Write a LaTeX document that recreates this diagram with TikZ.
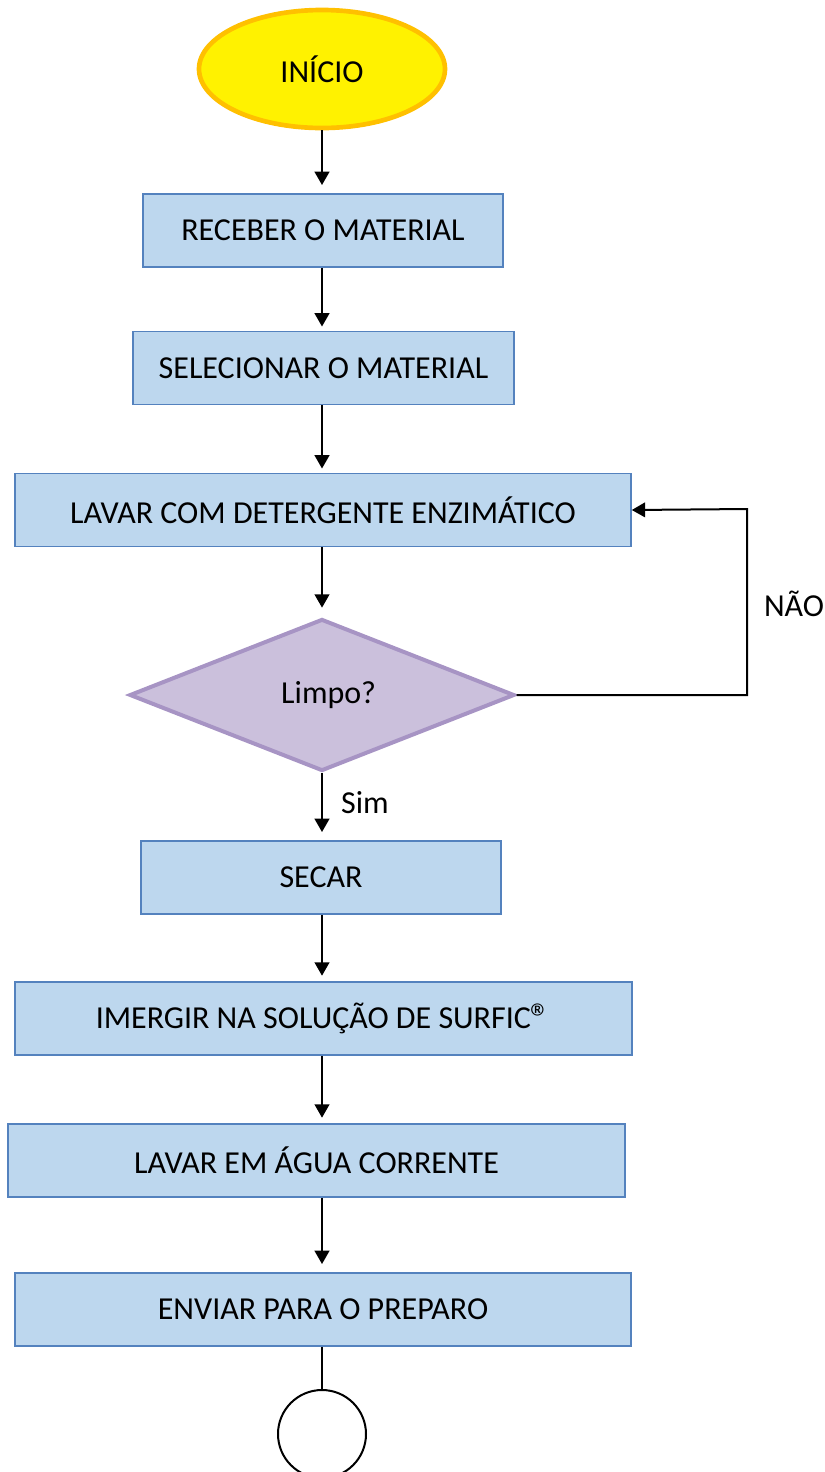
\documentclass[tikz,border=0pt]{standalone}
\usepackage{fontspec}
\setmainfont{Carlito}
\usetikzlibrary{shapes.geometric, arrows.meta, positioning, calc}

\definecolor{boxfill}{RGB}{189,215,238}
\definecolor{boxline}{RGB}{84,130,190}
\definecolor{decfill}{RGB}{203,192,220}
\definecolor{decline}{RGB}{167,148,196}
\definecolor{startline}{RGB}{255,192,0}

\newcommand{\regmark}{\raisebox{-2pt}{\fontsize{30}{30}\selectfont ®}}

\begin{document}
\begin{tikzpicture}[x=0.75pt, y=-0.75pt,
  every node/.style={font=\fontsize{24}{28}\selectfont},
  stepbox/.style={rectangle, draw=boxline, fill=boxfill, line width=1.2pt,
    inner sep=0pt, minimum height=55pt},
  decision/.style={diamond, draw=decline, fill=decfill, line width=3pt,
    inner sep=0pt, aspect=2.5, minimum width=288.75pt, minimum height=114pt},
  startnode/.style={ellipse, draw=startline, fill=yellow, line width=3.5pt,
    inner sep=0pt, minimum width=184.5pt, minimum height=88.5pt},
  endnode/.style={circle, draw=black, line width=1.5pt, fill=white,
    inner sep=0pt, minimum size=66pt},
  arr/.style={line width=1.5pt, -{Triangle[length=10pt, width=11pt]}},
  lbl/.style={inner sep=0pt}
]
\useasboundingbox (0,0) rectangle (825,1472);

% Nodes
\node[startnode] (ini) at (322,69) {INÍCIO};
\node[stepbox, minimum width=270pt] (rec) at (323,230.5) {RECEBER O MATERIAL};
\node[stepbox, minimum width=285.75pt] (sel) at (323.5,368) {SELECIONAR O MATERIAL};
\node[stepbox, minimum width=462pt] (lav) at (323,510) {LAVAR COM DETERGENTE ENZIMÁTICO};
\node[decision] (dec) at (322,695) {\raisebox{-4pt}{\hspace{10pt}Limpo?}};
\node[stepbox, minimum width=270pt] (sec) at (321,877.5) {SECAR};
\node[stepbox, minimum width=462.75pt] (ime) at (323.5,1018.5) {IMERGIR NA SOLUÇÃO DE SURFIC\regmark};
\node[stepbox, minimum width=462.75pt] (agu) at (316.5,1160.5) {LAVAR EM ÁGUA CORRENTE};
\node[stepbox, minimum width=462pt] (env) at (323,1309.5) {ENVIAR PARA O PREPARO};
\node[endnode] (fim) at (322,1434) {};

% Labels
\node[lbl] (sim) at (365,803) {Sim};
\node[lbl] (nao) at (794,604) {NÃO};

% Connectors
\draw[arr, shorten >=6pt] (ini.south) -- (rec.north -| ini);
\draw[arr, shorten >=3pt] (rec.south -| ini) -- (sel.north -| ini);
\draw[arr, shorten >=3pt] (sel.south -| ini) -- (lav.north -| ini);
\draw[arr, shorten >=7pt] (lav.south -| ini) -- (dec.north);
\draw[arr, shorten >=6pt] (dec.south) -- (sec.north -| ini);
\draw[arr, shorten >=4pt] (sec.south -| ini) -- (ime.north -| ini);
\draw[arr, shorten >=4pt] (ime.south -| ini) -- (agu.north -| ini);
\draw[arr, shorten >=6pt] (agu.south -| ini) -- (env.north -| ini);
\draw[line width=1.5pt] (env.south -| ini) -- (fim.north);

% Loop back
\coordinate (volta) at (747,509);
\draw[arr] (dec.east) -- (dec.east -| volta) -- (volta) -- (lav.east);
\end{tikzpicture}
\end{document}
